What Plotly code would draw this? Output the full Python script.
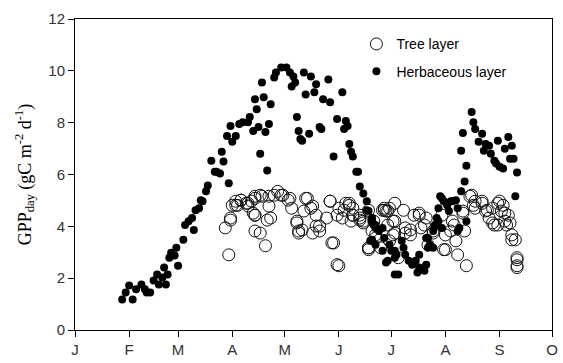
import plotly.graph_objects as go

# Daily gross primary production (gC m-2 d-1) by day of year
herb_day = [27, 29, 31, 33, 35, 38, 40, 41, 43, 45, 47, 48, 50, 51, 52, 53, 54, 55, 57, 58,
            59, 62, 63, 65, 67, 68, 69, 71, 72, 73, 75, 76, 78, 80, 81, 83, 84, 85, 87, 88,
            89, 90, 92, 94, 96, 99, 100, 102, 103, 104, 105, 106, 107, 108, 109, 110, 111, 112, 114, 115,
            118, 121, 123, 124, 125, 126, 127, 128, 129, 130, 131, 132, 134, 135, 137, 138, 140, 141, 142, 145,
            146, 148, 150, 153, 154, 155, 156, 157, 158, 159, 161, 162, 163, 165, 167, 168, 169, 170, 171, 172,
            174, 176, 177, 178, 179, 180, 181, 183, 184, 185, 187, 188, 189, 191, 193, 195, 196, 197, 200, 201,
            202, 203, 205, 206, 207, 208, 209, 210, 211, 213, 214, 215, 216, 218, 219, 220, 221, 221, 222, 223,
            224, 227, 228, 229, 231, 233, 234, 235, 237, 238, 240, 241, 242, 243, 245, 246, 248, 249, 250, 251,
            252, 253, 206, 210, 205, 201, 202, 197, 183, 219, 224, 208, 170, 167, 172, 176, 170, 172, 183]
herb_gpp = [1.18, 1.45, 1.72, 1.18, 1.57, 1.76, 1.57, 1.45, 1.45, 1.91, 2.14, 1.76, 2.03, 2.41, 1.76, 2.14, 2.79, 2.98, 2.87, 3.17,
            2.48, 3.48, 4.05, 4.20, 4.32, 3.86, 4.62, 4.70, 5.01, 4.97, 5.35, 5.58, 6.53, 6.11, 6.11, 6.04, 6.88, 6.50, 7.49, 5.66,
            7.87, 7.26, 7.49, 7.95, 8.02, 8.02, 8.22, 7.68, 8.90, 8.52, 7.83, 6.80, 9.55, 8.98, 7.64, 6.15, 7.95, 8.71, 9.74, 9.94,
            10.13, 10.13, 9.94, 9.40, 9.78, 9.55, 8.22, 7.68, 7.37, 7.30, 9.94, 9.09, 7.57, 9.78, 9.17, 9.48, 7.83, 7.76, 8.90, 9.67,
            8.79, 6.69, 8.14, 9.17, 7.76, 8.06, 7.87, 7.18, 6.88, 6.69, 6.11, 6.11, 5.54, 5.27, 4.97, 4.59, 3.44, 4.32, 4.05, 3.94,
            3.82, 3.06, 3.55, 2.60, 2.67, 3.29, 3.06, 3.06, 2.90, 2.14, 3.44, 3.17, 2.90, 2.67, 2.52, 2.67, 2.22, 2.41, 2.29, 2.52,
            3.55, 3.29, 3.17, 4.05, 4.32, 4.70, 5.16, 5.08, 4.97, 4.81, 4.59, 4.97, 4.97, 5.01, 4.70, 3.94, 5.35, 6.92, 7.60, 5.73,
            6.34, 8.41, 8.02, 7.76, 7.26, 7.57, 6.92, 7.18, 7.11, 6.80, 6.53, 6.42, 7.30, 6.30, 6.23, 6.99, 7.45, 6.61, 7.11, 6.61,
            5.16, 6.08, 4.01, 3.94, 3.82, 3.55, 3.17, 2.90, 2.79, 3.82, 4.20, 4.20, 4.20, 4.62, 4.05, 3.94, 3.48, 3.29, 2.14]

tree_day = [88, 86, 89, 92, 95, 99, 103, 103, 89, 90, 92, 95, 98, 101, 102, 103, 107, 106, 109, 110,
            111, 114, 116, 119, 122, 124, 127, 128, 130, 131, 133, 136, 138, 140, 136, 146, 147, 150, 144, 150,
            154, 157, 159, 163, 165, 168, 172, 177, 175, 179, 93, 99, 103, 106, 111, 103, 112, 118, 123, 127,
            128, 132, 135, 138, 140, 146, 148, 151, 153, 157, 159, 163, 168, 171, 176, 180, 178, 151, 155, 159,
            163, 168, 168, 170, 172, 177, 179, 182, 183, 185, 188, 189, 192, 194, 197, 198, 201, 205, 210, 212,
            215, 216, 219, 224, 222, 223, 226, 229, 233, 236, 239, 242, 244, 246, 248, 250, 250, 253, 253, 158,
            165, 183, 180, 183, 192, 197, 200, 202, 205, 211, 217, 222, 227, 228, 233, 235, 237, 240, 243, 246,
            249, 252, 253, 253, 229, 239, 245, 247, 242, 218, 212, 189, 182]
tree_gpp = [2.90, 3.94, 4.24, 4.81, 5.01, 4.89, 4.43, 3.82, 4.32, 4.81, 4.97, 5.01, 4.89, 4.97, 4.51, 5.16, 5.16, 3.74, 3.25, 4.24,
            4.78, 5.20, 5.35, 5.20, 5.01, 4.70, 4.13, 3.82, 3.86, 4.59, 5.08, 4.78, 4.43, 4.01, 3.74, 4.97, 3.36, 2.52, 4.32, 4.43,
            4.62, 4.89, 4.43, 4.24, 4.20, 3.17, 3.67, 4.70, 3.17, 4.05, 4.81, 4.78, 5.08, 5.20, 5.16, 4.43, 4.32, 5.20, 5.08, 4.20,
            3.74, 5.08, 4.70, 4.01, 3.82, 4.97, 3.36, 2.48, 4.32, 4.81, 4.43, 4.32, 3.17, 4.20, 4.62, 3.44, 4.59, 4.70, 4.89, 4.70,
            4.43, 4.62, 3.10, 3.82, 3.55, 4.62, 4.59, 4.20, 3.74, 2.79, 4.62, 3.94, 3.67, 4.43, 4.51, 3.94, 4.32, 3.82, 4.43, 3.10,
            3.82, 4.20, 2.90, 2.48, 4.51, 3.82, 5.16, 4.97, 4.89, 4.62, 4.13, 4.89, 4.59, 4.20, 4.43, 3.67, 3.48, 2.79, 2.48, 4.20,
            4.13, 4.89, 4.70, 4.20, 3.86, 4.43, 4.05, 3.29, 3.74, 3.10, 4.05, 4.59, 5.20, 4.81, 4.97, 4.59, 4.32, 4.05, 4.97, 4.51,
            4.13, 3.48, 2.71, 2.41, 4.70, 4.70, 4.81, 4.05, 4.05, 3.44, 3.67, 3.74, 3.67]

month_start = [0, 31, 59, 90, 120, 151, 181, 212, 243, 273]
month_label = ["J", "F", "M", "A", "M", "J", "J", "A", "S", "O"]

fig = go.Figure()
fig.add_trace(go.Scatter(
    x=tree_day, y=tree_gpp, mode="markers", name="Tree layer", legendgroup="tree",
    marker=dict(symbol="circle-open", size=12, color="#111", line=dict(width=1)),
))
fig.add_trace(go.Scatter(
    x=herb_day, y=herb_gpp, mode="markers", name="Herbaceous layer", legendgroup="herb",
    marker=dict(symbol="circle", size=8, color="black"),
))

axis_common = dict(
    showline=True, linecolor="black", linewidth=1, mirror=True,
    ticks="outside", ticklen=6, tickcolor="black", tickwidth=1,
    showgrid=False, zeroline=False,
    tickfont=dict(family="Liberation Sans, Arial, sans-serif", size=15, color="#333"),
)

fig.update_xaxes(range=[0, 273], tickvals=month_start, ticktext=month_label, **axis_common)
fig.update_yaxes(
    range=[0, 12], tickvals=[0, 2, 4, 6, 8, 10, 12],
    title=dict(text="GPP<sub>day</sub> (gC m<sup>-2</sup> d<sup>-1</sup>)",
               font=dict(family="Liberation Serif, Times New Roman, serif", size=18, color="black"),
               standoff=12),
    **axis_common,
)

fig.update_layout(
    width=563, height=363,
    margin=dict(l=75, r=5, t=19, b=30),
    plot_bgcolor="white", paper_bgcolor="white",
    showlegend=True,
    legend=dict(x=0.59, y=0.97, xanchor="left", yanchor="top",
                font=dict(family="Liberation Sans, Arial, sans-serif", size=14, color="black"),
                bgcolor="rgba(0,0,0,0)", tracegroupgap=6, itemwidth=30),
)

fig.write_html("out.html")
